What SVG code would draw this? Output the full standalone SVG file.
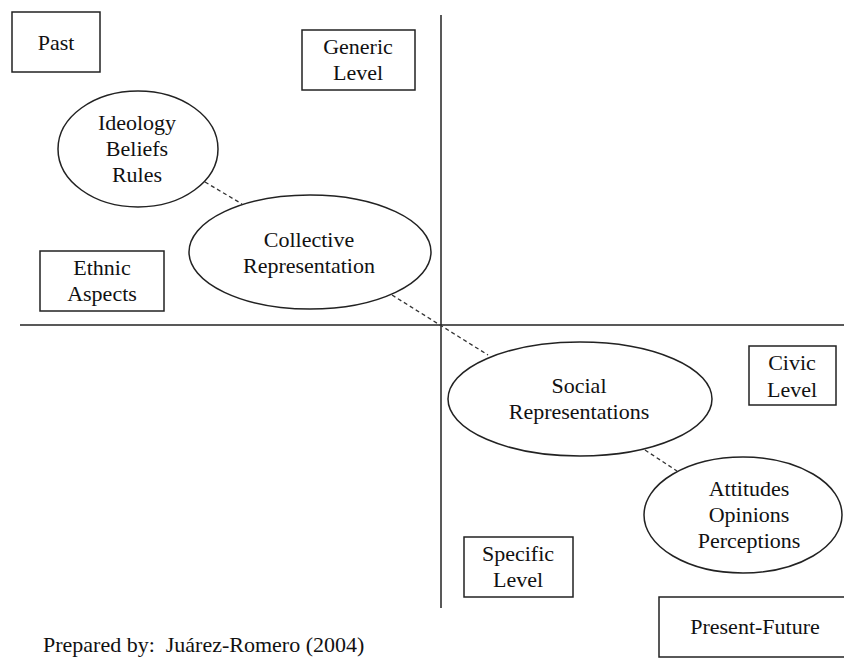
<svg xmlns="http://www.w3.org/2000/svg" width="844" height="664" viewBox="0 0 844 664">
<style>
text{font-family:"Liberation Serif","Times New Roman",serif;font-size:22px;fill:#111;text-anchor:middle}
.box{fill:#fff;stroke:#222;stroke-width:1.5}
.ell{fill:#fff;stroke:#222;stroke-width:1.5}
.axis{stroke:#222;stroke-width:1.5;fill:none}
.dash{stroke:#333;stroke-width:1.3;stroke-dasharray:4 3;fill:none}
</style>
<rect width="844" height="664" fill="#fff"/>
<g id="axes">
<line class="axis" x1="441" y1="15" x2="441" y2="608"/>
<line class="axis" x1="20" y1="325" x2="844" y2="325"/>
</g>
<g id="connectors">
<line class="dash" x1="205" y1="182" x2="242" y2="204"/>
<line class="dash" x1="392" y1="295" x2="488" y2="355"/>
<line class="dash" x1="645" y1="450" x2="677" y2="471"/>
</g>
<g id="past"><rect class="box" x="12" y="12" width="88" height="60"/><text x="56" y="50">Past</text></g>
<g id="generic"><rect class="box" x="302" y="30" width="113" height="60"/><text x="358" y="54">Generic</text><text x="358" y="80">Level</text></g>
<g id="ideology"><ellipse class="ell" cx="138" cy="149" rx="80" ry="58"/><text x="137" y="130">Ideology</text><text x="137" y="156">Beliefs</text><text x="137" y="182">Rules</text></g>
<g id="collective"><ellipse class="ell" cx="310" cy="252" rx="121" ry="57"/><text x="309" y="247">Collective</text><text x="309" y="273">Representation</text></g>
<g id="ethnic"><rect class="box" x="40" y="251" width="124" height="60"/><text x="102" y="275">Ethnic</text><text x="102" y="301">Aspects</text></g>
<g id="social"><ellipse class="ell" cx="580" cy="399" rx="132" ry="57"/><text x="579" y="393">Social</text><text x="579" y="419">Representations</text></g>
<g id="civic"><rect class="box" x="749" y="346" width="87" height="59"/><text x="792" y="370">Civic</text><text x="792" y="397">Level</text></g>
<g id="attitudes"><ellipse class="ell" cx="743" cy="515" rx="99" ry="58"/><text x="749" y="496">Attitudes</text><text x="749" y="522">Opinions</text><text x="749" y="548">Perceptions</text></g>
<g id="specific"><rect class="box" x="464" y="537" width="109" height="60"/><text x="518" y="561">Specific</text><text x="518" y="587">Level</text></g>
<g id="present"><rect class="box" x="659" y="597" width="190" height="60"/><text x="755" y="634">Present-Future</text></g>
<text x="43" y="652" style="text-anchor:start" xml:space="preserve">Prepared by:  Juárez-Romero (2004)</text>
</svg>
